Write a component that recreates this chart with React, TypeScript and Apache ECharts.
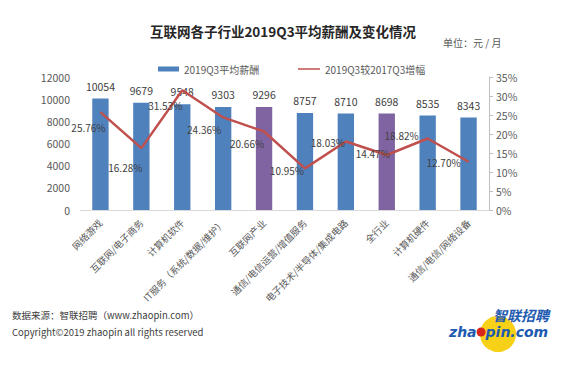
import React, { useEffect, useRef } from "react";
import * as echarts from "echarts";

const categories = [
  "网络游戏",
  "互联网/电子商务",
  "计算机软件",
  "IT服务（系统/数据/维护）",
  "互联网产业",
  "通信/电信运营/增值服务",
  "电子技术/半导体/集成电路",
  "全行业",
  "计算机硬件",
  "通信/电信/网络设备",
];
const salary = [10054, 9679, 9548, 9303, 9296, 8757, 8710, 8698, 8535, 8343];
const growth = [25.76, 16.28, 31.53, 24.36, 20.66, 10.95, 18.03, 14.47, 18.82, 12.7];
const highlighted = ["互联网产业", "全行业"];
const leftTicks = { min: 0, max: 12000, interval: 2000 };
const rightTicks = { min: 0, max: 35, interval: 5 };

// layout: label offsets for the line's data labels (px)
const lineLabelOffsets: [number, number][] = [
  [-12, 15],
  [-16, 19],
  [-17, 15],
  [-19, 12],
  [-17, 12],
  [-18, 2],
  [-18, 1],
  [-14, -2],
  [-26, -3],
  [-25, 1],
];

const FONT = "'Noto Sans CJK SC', 'Noto Sans', sans-serif";

export default function App() {
  const ref = useRef<HTMLDivElement>(null);
  useEffect(() => {
    if (!ref.current) return;
    const chart = echarts.init(ref.current, undefined, { renderer: "svg" });
    chart.setOption({
      animation: false,
      backgroundColor: "#ffffff",
      textStyle: { fontFamily: FONT },
      title: {
        text: "互联网各子行业2019Q3平均薪酬及变化情况",
        left: 278,
        textAlign: "center",
        top: 19,
        textStyle: { fontSize: 13.5, fontWeight: "bold", color: "#262626", fontFamily: FONT },
      },
      legend: [
        {
          left: 153,
          top: 59,
          itemWidth: 21,
          itemHeight: 5,
          textStyle: { fontSize: 10, color: "#595959", fontFamily: FONT },
          data: [{ name: "2019Q3平均薪酬", icon: "rect" }],
        },
        {
          left: 293,
          top: 59,
          itemWidth: 22,
          itemHeight: 1.5,
          textStyle: { fontSize: 10, color: "#595959", fontFamily: FONT },
          data: [{ name: "2019Q3较2017Q3增幅", icon: "rect" }],
        },
      ],
      grid: { left: 80, right: 97, top: 77, bottom: 156, containLabel: false },
      xAxis: {
        type: "category",
        data: categories,
        axisLine: { show: true, lineStyle: { color: "#d9d9d9", width: 1 } },
        axisTick: { show: false },
        axisLabel: {
          interval: 0,
          rotate: 45,
          fontSize: 9.5,
          color: "#595959",
          margin: 11,
          fontFamily: FONT,
        },
      },
      yAxis: [
        {
          type: "value",
          min: leftTicks.min,
          max: leftTicks.max,
          interval: leftTicks.interval,
          splitLine: { show: false },
          axisLine: { show: false },
          axisTick: { show: false },
          axisLabel: {
            fontSize: 10.5,
            color: "#595959",
            margin: 10,
            fontFamily: FONT,
            formatter: (v: number) => String(v),
          },
        },
        {
          type: "value",
          min: rightTicks.min,
          max: rightTicks.max,
          interval: rightTicks.interval,
          position: "right",
          splitLine: { show: false },
          axisLine: { show: true, lineStyle: { color: "#bfbfbf" } },
          axisTick: { show: true, inside: false, length: 4, lineStyle: { color: "#bfbfbf" } },
          axisLabel: { fontSize: 10.5, color: "#595959", margin: 7, formatter: "{value}%", fontFamily: FONT },
        },
      ],
      series: [
        {
          name: "2019Q3平均薪酬",
          type: "bar",
          data: salary,
          barWidth: "40%",
          color: "#4F81BD",
          itemStyle: {
            color: (p: any) =>
              highlighted.includes(categories[p.dataIndex]) ? "#8064A2" : "#4F81BD",
          },
          label: {
            show: true,
            position: "top",
            distance: 7,
            fontSize: 10.5,
            color: "#404040",
            fontFamily: FONT,
          },
        },
        {
          name: "2019Q3较2017Q3增幅",
          type: "line",
          yAxisIndex: 1,
          symbol: "circle",
          symbolSize: 1,
          color: "#C0504D",
          lineStyle: { color: "#C0504D", width: 2.5 },
          itemStyle: { color: "#C0504D" },
          data: growth.map((v, i) => ({
            value: v,
            label: { offset: lineLabelOffsets[i] },
          })),
          label: {
            show: true,
            position: "inside",
            fontSize: 10,
            color: "#404040",
            fontFamily: FONT,
            formatter: (p: any) => Number(p.value).toFixed(2) + "%",
          },
          z: 5,
        },
      ],
      graphic: [
        {
          type: "text",
          x: 443,
          y: 37,
          style: { text: "单位：元 / 月", fontSize: 10, fill: "#595959", fontFamily: FONT },
        },
        {
          type: "text",
          x: 12,
          y: 310,
          style: {
            text: "数据来源：智联招聘（www.zhaopin.com）",
            fontSize: 9.5,
            fill: "#404040",
            fontFamily: FONT,
          },
        },
        {
          type: "text",
          x: 12,
          y: 327,
          style: {
            text: "Copyright©2019 zhaopin all rights reserved",
            fontSize: 9.5,
            fill: "#404040",
            fontFamily: FONT,
          },
        },
        {
          type: "circle",
          shape: { cx: 498, cy: 334, r: 18 },
          style: { fill: "#F7D117" },
          z: 1,
        },
        {
          type: "text",
          x: 493,
          y: 308,
          z: 3,
          style: {
            text: "智联招聘",
            fontSize: 14,
            fontWeight: "bold",
            fontStyle: "italic",
            fill: "#1E5BB0",
            fontFamily: FONT,
          },
        },
        {
          type: "text",
          x: 449,
          y: 325,
          z: 3,
          style: {
            text: "{a|zha}{o| }{a|pin.com}",
            rich: {
              a: {
                fontSize: 14,
                fontWeight: "bold",
                fontStyle: "italic",
                fill: "#1E5BB0",
                color: "#1E5BB0",
                fontFamily: "'DejaVu Sans', sans-serif",
              },
              o: {
                width: 9,
                height: 9,
                backgroundColor: "#D9261C",
                borderRadius: 4.5,
                fontSize: 9,
                padding: [0, 0, 0, 0],
              },
            },
          },
        },
      ],
    });
    return () => chart.dispose();
  }, []);
  return (
    <div
      ref={ref}
      style={{ position: "fixed", left: 0, top: 0, width: 586, height: 366 }}
    />
  );
}
